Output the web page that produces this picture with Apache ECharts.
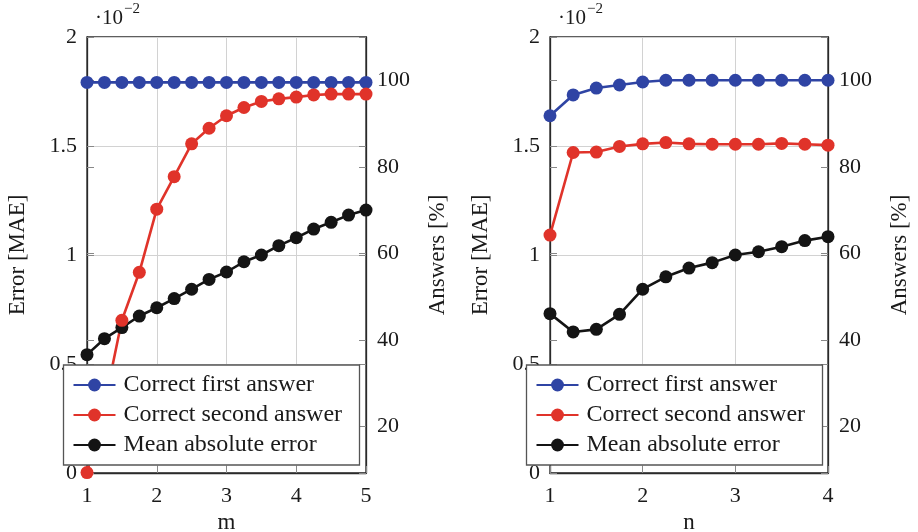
<!DOCTYPE html>
<html>
<head>
<meta charset="utf-8">
<script src="https://cdn.jsdelivr.net/npm/echarts@6/dist/echarts.min.js"></script>
<style>
  html, body { margin: 0; padding: 0; background: #fff; }
  #main { width: 918px; height: 532px; }
</style>
</head>
<body>
<div id="main"></div>
<script>
var chartDom = document.getElementById('main');
var myChart = echarts.init(chartDom);
var option;

// left panel (m)
var mSteps = [1, 1.25, 1.5, 1.75, 2, 2.25, 2.5, 2.75, 3, 3.25, 3.5, 3.75, 4, 4.25, 4.5, 4.75, 5];
var firstAnswerM = [99.5, 99.5, 99.5, 99.5, 99.5, 99.5, 99.5, 99.5, 99.5, 99.5, 99.5, 99.5, 99.5, 99.5, 99.5, 99.5, 99.5];
var secondAnswerM = [9.3, 25, 44.5, 55.6, 70.2, 77.7, 85.3, 88.9, 91.8, 93.7, 95.1, 95.7, 96.1, 96.6, 96.8, 96.8, 96.8];
var maeM = [0.543, 0.616, 0.667, 0.72, 0.758, 0.8, 0.843, 0.888, 0.922, 0.969, 1.0, 1.043, 1.079, 1.119, 1.15, 1.183, 1.206];

// right panel (n)
var nSteps = [1, 1.25, 1.5, 1.75, 2, 2.25, 2.5, 2.75, 3, 3.25, 3.5, 3.75, 4];
var firstAnswerN = [91.8, 96.6, 98.2, 98.9, 99.6, 100, 100, 100, 100, 100, 100, 100, 100];
var secondAnswerN = [64.2, 83.3, 83.4, 84.7, 85.3, 85.6, 85.3, 85.2, 85.2, 85.2, 85.4, 85.2, 85.0];
var maeN = [0.731, 0.647, 0.659, 0.728, 0.843, 0.9, 0.94, 0.965, 1.0, 1.015, 1.038, 1.066, 1.084];

var answerTicks = [20, 40, 60, 80, 100];
var seriesNames = ['Correct first answer', 'Correct second answer', 'Mean absolute error'];
var colors = ['#2f44a4', '#e0332a', '#141414'];

var font = 'Liberation Serif';
var txt = '#1a1a1a';

function pairs(xs, ys) {
  return xs.map(function (x, i) { return [x, ys[i]]; });
}

var grids = [];
var xAxes = [];
var yAxes = [];
var series = [];
var legends = [];
var graphics = [];

function addPanel(left, width, xName, xMax, steps, first, second, mae) {
  var g = grids.length;
  grids.push({
    left: left, width: width, top: 37, height: 436,
    outerBoundsMode: 'none', containLabel: false,
    show: true, borderColor: '#2a2a2a', borderWidth: 1.3, backgroundColor: 'transparent'
  });
  xAxes.push({
    type: 'value', gridIndex: g, min: 1, max: xMax, interval: 1,
    name: xName, nameLocation: 'middle', nameGap: 34,
    nameTextStyle: { fontFamily: font, fontSize: 23, color: txt },
    axisLine: { show: true, lineStyle: { color: '#2a2a2a', width: 1.3 } },
    axisTick: { inside: true, length: 7, lineStyle: { color: '#888' } },
    axisLabel: { fontFamily: font, fontSize: 22, color: txt, margin: 12 },
    splitLine: { show: true, lineStyle: { color: '#d2d2d2', width: 1 } }
  });
  var y0 = yAxes.length;
  // error axis (left)
  yAxes.push({
    type: 'value', gridIndex: g, position: 'left', min: 0, max: 2, interval: 0.5,
    name: 'Error [MAE]', nameLocation: 'middle', nameGap: 58, nameRotate: 90,
    nameTextStyle: { fontFamily: font, fontSize: 23, color: txt },
    axisLine: { show: true, lineStyle: { color: '#2a2a2a', width: 1.3 } },
    axisTick: { inside: true, length: 7, lineStyle: { color: '#888' } },
    axisLabel: { fontFamily: font, fontSize: 22, color: txt, margin: 10, padding: [5, 0, 0, 0] },
    splitLine: { show: true, lineStyle: { color: '#d2d2d2', width: 1 } }
  });
  // answers axis (right)
  yAxes.push({
    type: 'value', gridIndex: g, position: 'right', min: 9.2, max: 110,
    name: 'Answers [%]', nameLocation: 'middle', nameGap: 60, nameRotate: 90,
    nameTextStyle: { fontFamily: font, fontSize: 23, color: txt },
    axisLine: { show: true, lineStyle: { color: '#2a2a2a', width: 1.3 } },
    axisTick: { inside: true, length: 7, customValues: answerTicks, lineStyle: { color: '#888' } },
    axisLabel: { fontFamily: font, fontSize: 22, color: txt, margin: 11, padding: [5, 0, 0, 0], customValues: answerTicks },
    splitLine: { show: false }
  });
  // mirrored ticks
  yAxes.push({
    type: 'value', gridIndex: g, position: 'left', min: 9.2, max: 110,
    axisLine: { show: false },
    axisTick: { inside: true, length: 7, customValues: answerTicks, lineStyle: { color: '#888' } },
    axisLabel: { show: false },
    splitLine: { show: false }
  });
  yAxes.push({
    type: 'value', gridIndex: g, position: 'right', min: 0, max: 2, interval: 0.5,
    axisLine: { show: false },
    axisTick: { inside: true, length: 7, lineStyle: { color: '#888' } },
    axisLabel: { show: false },
    splitLine: { show: false }
  });

  var common = { type: 'line', xAxisIndex: g, symbol: 'circle', symbolSize: 13, clip: false };
  series.push(Object.assign({}, common, {
    name: seriesNames[2], yAxisIndex: y0, data: pairs(steps, mae),
    itemStyle: { color: colors[2] }, lineStyle: { width: 2.6, color: colors[2] }
  }));
  series.push(Object.assign({}, common, {
    name: seriesNames[0], yAxisIndex: y0 + 1, data: pairs(steps, first),
    itemStyle: { color: colors[0] }, lineStyle: { width: 2.6, color: colors[0] }
  }));
  series.push(Object.assign({}, common, {
    name: seriesNames[1], yAxisIndex: y0 + 1, data: pairs(steps, second),
    itemStyle: { color: colors[1] }, lineStyle: { width: 2.6, color: colors[1] }
  }));

  legends.push({
    data: seriesNames, orient: 'vertical', left: left - 23.5, top: 365,
    padding: [8, 8, 8, 9], itemGap: 6, itemWidth: 42, itemHeight: 16,
    backgroundColor: '#fff', borderColor: '#555', borderWidth: 1.3, borderRadius: 0,
    selectedMode: false,
    textStyle: { fontFamily: font, fontSize: 24, color: txt, width: 228, padding: [0, 0, 0, 3], lineHeight: 23 }
  });

  graphics.push({
    type: 'text', left: left + 8, top: 8,
    style: { text: '\u00b710', font: '21px "Liberation Serif"', fill: txt }
  });
  graphics.push({
    type: 'text', left: left + 37, top: 2,
    style: { text: '\u22122', font: '15px "Liberation Serif"', fill: txt }
  });
}

addPanel(87, 279, 'm', 5, mSteps, firstAnswerM, secondAnswerM, maeM);
addPanel(550, 278, 'n', 4, nSteps, firstAnswerN, secondAnswerN, maeN);

option = {
  animation: false,
  backgroundColor: '#fff',
  grid: grids,
  xAxis: xAxes,
  yAxis: yAxes,
  legend: legends,
  series: series,
  graphic: graphics
};

option && myChart.setOption(option);
</script>
</body>
</html>
